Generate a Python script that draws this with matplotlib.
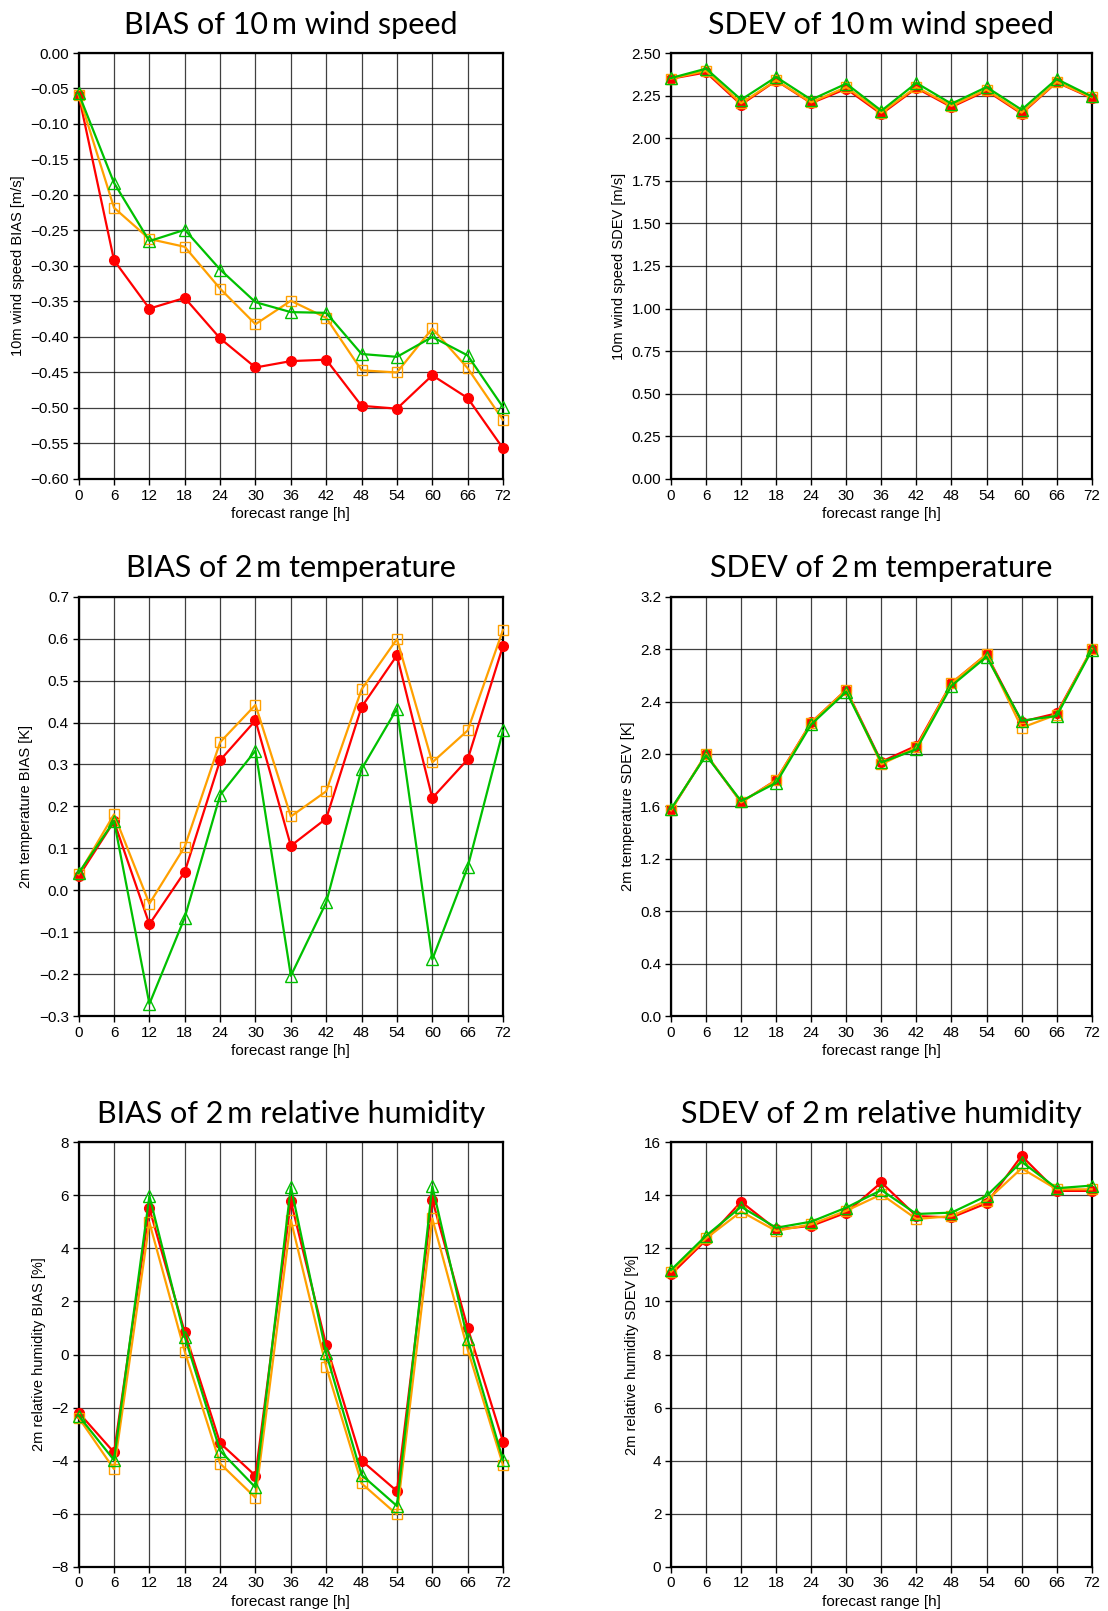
import matplotlib
matplotlib.use("Agg")
from matplotlib import pyplot as plt

plt.rcParams['font.family'] = ['Liberation Sans', 'DejaVu Sans']

horas = [0, 6, 12, 18, 24, 30, 36, 42, 48, 54, 60, 66, 72]

# BIAS viento 10 m
bias_ff_rojo = [-0.059, -0.292, -0.360, -0.345, -0.402, -0.443, -0.434, -0.432, -0.497, -0.501, -0.454, -0.486, -0.557]
bias_ff_naranja = [-0.059, -0.218, -0.262, -0.273, -0.332, -0.382, -0.349, -0.373, -0.447, -0.450, -0.388, -0.444, -0.517]
bias_ff_verde = [-0.057, -0.183, -0.265, -0.249, -0.305, -0.351, -0.365, -0.366, -0.424, -0.428, -0.400, -0.426, -0.499]

# SDEV viento 10 m
sdev_ff_rojo = [2.349, 2.386, 2.197, 2.338, 2.206, 2.290, 2.142, 2.294, 2.183, 2.279, 2.144, 2.328, 2.236]
sdev_ff_naranja = [2.350, 2.395, 2.205, 2.340, 2.210, 2.300, 2.150, 2.300, 2.190, 2.285, 2.150, 2.330, 2.240]
sdev_ff_verde = [2.353, 2.408, 2.226, 2.359, 2.226, 2.320, 2.161, 2.324, 2.202, 2.300, 2.167, 2.347, 2.245]

# BIAS temperatura 2 m
bias_t_rojo = [0.033, 0.164, -0.081, 0.044, 0.310, 0.405, 0.106, 0.171, 0.437, 0.560, 0.220, 0.312, 0.583]
bias_t_naranja = [0.038, 0.181, -0.032, 0.104, 0.353, 0.442, 0.176, 0.236, 0.479, 0.599, 0.305, 0.381, 0.621]
bias_t_verde = [0.041, 0.165, -0.271, -0.065, 0.227, 0.333, -0.204, -0.029, 0.289, 0.433, -0.165, 0.055, 0.381]

# SDEV temperatura 2 m
sdev_t_rojo = [1.572, 1.997, 1.631, 1.801, 2.241, 2.490, 1.941, 2.063, 2.541, 2.760, 2.246, 2.310, 2.798]
sdev_t_naranja = [1.570, 2.000, 1.630, 1.800, 2.240, 2.490, 1.921, 2.050, 2.540, 2.760, 2.200, 2.300, 2.800]
sdev_t_verde = [1.580, 1.990, 1.640, 1.780, 2.226, 2.475, 1.936, 2.035, 2.520, 2.742, 2.254, 2.290, 2.790]

# BIAS humedad relativa 2 m
bias_rh_rojo = [-2.19, -3.69, 5.51, 0.84, -3.34, -4.57, 5.78, 0.36, -4.00, -5.15, 5.84, 1.01, -3.29]
bias_rh_naranja = [-2.38, -4.32, 4.98, 0.11, -4.11, -5.40, 5.07, -0.46, -4.86, -6.03, 5.13, 0.19, -4.17]
bias_rh_verde = [-2.31, -3.98, 5.98, 0.67, -3.63, -5.01, 6.33, 0.04, -4.54, -5.71, 6.35, 0.57, -3.98]

# SDEV humedad relativa 2 m
sdev_rh_rojo = [11.02, 12.32, 13.76, 12.72, 12.85, 13.35, 14.49, 13.22, 13.17, 13.70, 15.49, 14.17, 14.17]
sdev_rh_naranja = [11.12, 12.38, 13.39, 12.66, 12.91, 13.42, 14.04, 13.11, 13.22, 13.80, 15.02, 14.23, 14.23]
sdev_rh_verde = [11.19, 12.48, 13.57, 12.78, 13.01, 13.54, 14.20, 13.30, 13.35, 13.98, 15.27, 14.27, 14.37]

paneles = [
    ("BIAS of 10\u2009m wind speed", "10m wind speed BIAS [m/s]", (-0.60, 0.0),
     [round(-0.60 + 0.05 * i, 2) for i in range(13)], "{:.2f}",
     bias_ff_rojo, bias_ff_naranja, bias_ff_verde),
    ("SDEV of 10\u2009m wind speed", "10m wind speed SDEV [m/s]", (0.0, 2.5),
     [0.25 * i for i in range(11)], "{:.2f}",
     sdev_ff_rojo, sdev_ff_naranja, sdev_ff_verde),
    ("BIAS of 2\u2009m temperature", "2m temperature BIAS [K]", (-0.3, 0.7),
     [round(-0.3 + 0.1 * i, 1) for i in range(11)], "{:.1f}",
     bias_t_rojo, bias_t_naranja, bias_t_verde),
    ("SDEV of 2\u2009m temperature", "2m temperature SDEV [K]", (0.0, 3.2),
     [0.4 * i for i in range(9)], "{:.1f}",
     sdev_t_rojo, sdev_t_naranja, sdev_t_verde),
    ("BIAS of 2\u2009m relative humidity", "2m relative humidity BIAS [%]", (-8, 8),
     list(range(-8, 9, 2)), "{:d}",
     bias_rh_rojo, bias_rh_naranja, bias_rh_verde),
    ("SDEV of 2\u2009m relative humidity", "2m relative humidity SDEV [%]", (0, 16),
     list(range(0, 17, 2)), "{:d}",
     sdev_rh_rojo, sdev_rh_naranja, sdev_rh_verde),
]

# posiciones de los ejes [izq, abajo, ancho, alto]
posiciones = [
    [0.0710, 0.7027, 0.3830, 0.2644], [0.6056, 0.7027, 0.3797, 0.2644],
    [0.0710, 0.3693, 0.3830, 0.2603], [0.6056, 0.3693, 0.3797, 0.2603],
    [0.0710, 0.0275, 0.3830, 0.2634], [0.6056, 0.0275, 0.3797, 0.2634],
]

fig = plt.figure(figsize=(11.08, 16.11), dpi=100)

for pos, (titulo, etiqueta_y, limites, ticks_y, formato, rojo, naranja, verde) in zip(posiciones, paneles):
    ax = fig.add_axes(pos)
    ax.plot(horas, rojo, color='#ff0000', lw=1.6, marker='o', ms=7, mfc='#ff0000', mec='#ff0000',
            clip_on=False, zorder=3)
    ax.plot(horas, naranja, color='#ffa000', lw=1.6, marker='s', ms=7, mfc='none', mec='#ffa000',
            mew=1.0, clip_on=False, zorder=4)
    ax.plot(horas, verde, color='#00c000', lw=1.6, marker='^', ms=9, mfc='none', mec='#00c000',
            mew=1.0, clip_on=False, zorder=5)

    ax.set_xlim(0, 72)
    ax.set_ylim(*limites)
    ax.set_xticks(horas)
    ax.set_yticks(ticks_y)
    ax.set_yticklabels([formato.format(v).replace("-", "\u2212") for v in ticks_y])
    ax.grid(True, color='black', lw=0.9, alpha=0.75)
    ax.set_axisbelow(True)
    for lado in ax.spines.values():
        lado.set_linewidth(1.6)
    ax.tick_params(direction='out', length=4, width=1, labelsize=11, pad=3)
    ax.set_xlabel("forecast range [h]", fontsize=11, labelpad=3)
    ax.set_ylabel(etiqueta_y, fontsize=10.5, labelpad=4)
    ax.set_title(titulo, fontsize=22, pad=14, fontweight='normal', family=['Lato', 'DejaVu Sans'])

plt.savefig('out.png', dpi=100)
plt.close()
